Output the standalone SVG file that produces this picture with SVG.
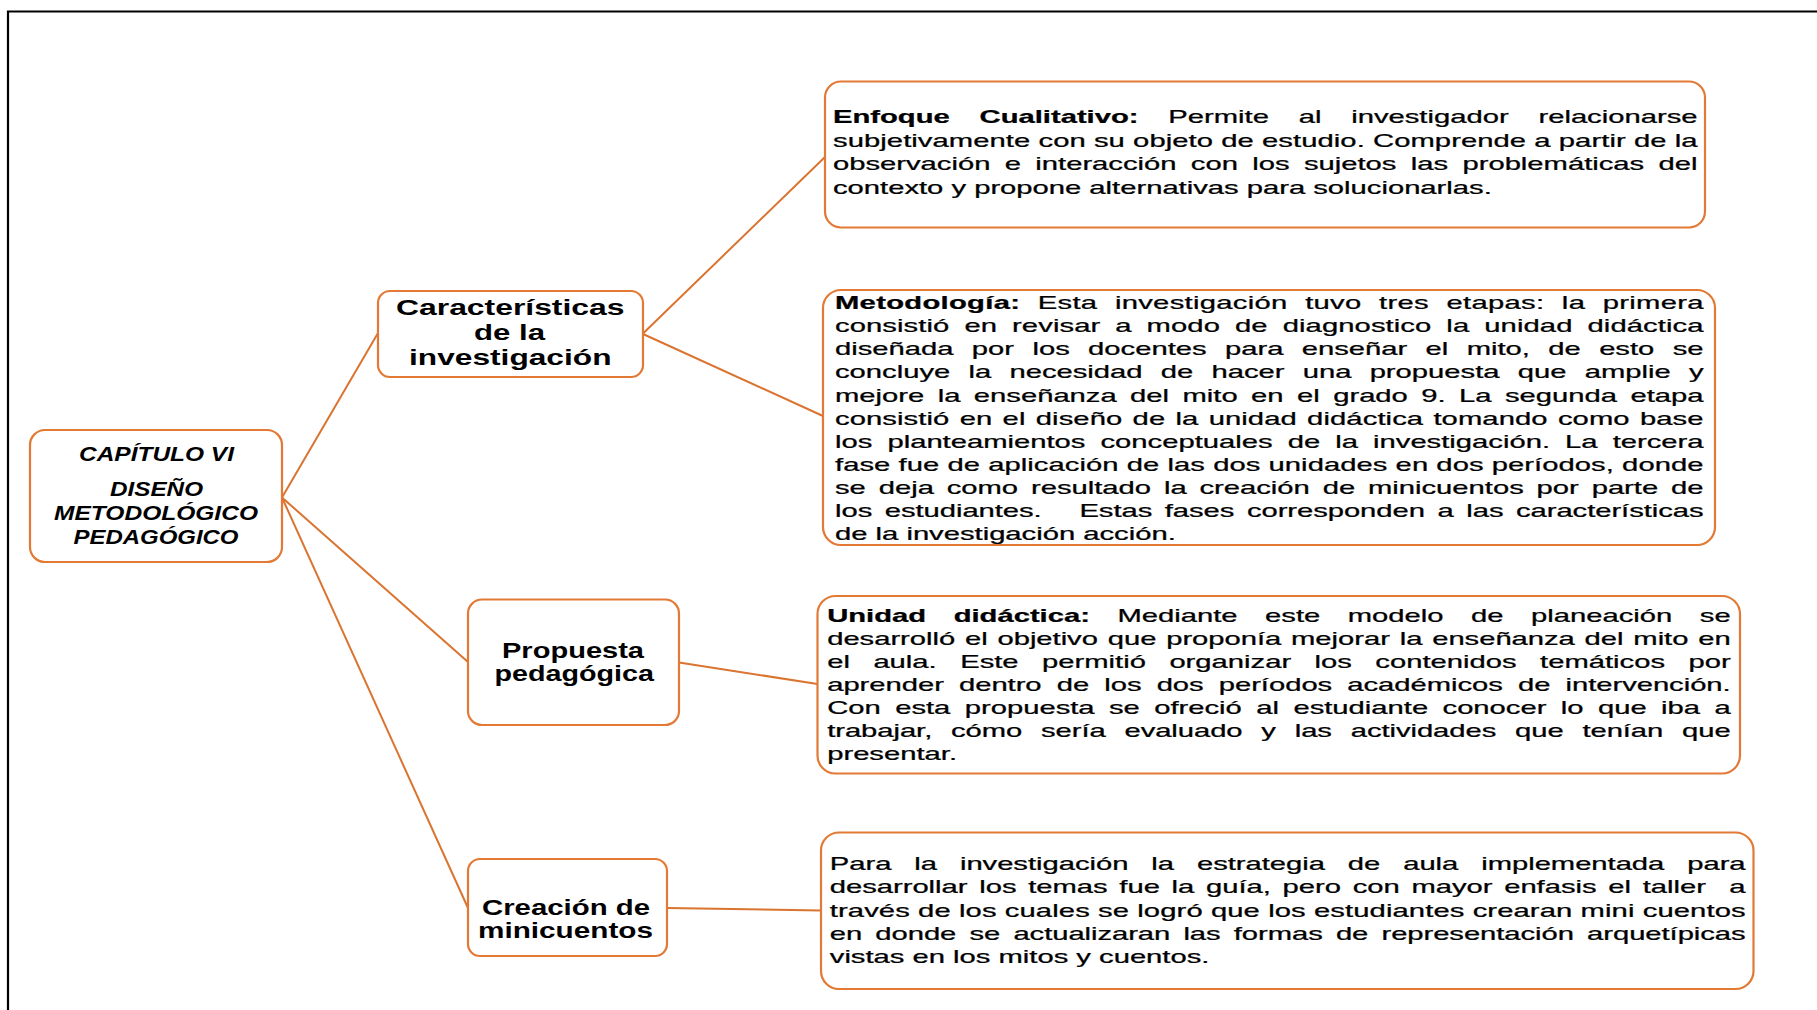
<svg xmlns="http://www.w3.org/2000/svg" width="1817" height="1010" viewBox="0 0 1817 1010">
<style>
.box{fill:#fff;stroke:#E27A36;stroke-width:2.2}
.conn{stroke:#DA7430;stroke-width:2;fill:none;stroke-linecap:round}
.body{font-family:"Liberation Sans",Arial,sans-serif;font-size:17.5px;fill:#000;stroke:#000;stroke-width:0.25}
.node{font-family:"Liberation Sans",Arial,sans-serif;font-weight:bold;font-size:21.5px;fill:#000}
.root{font-family:"Liberation Sans",Arial,sans-serif;font-weight:bold;font-style:italic;font-size:19.5px;fill:#000}
.b{font-weight:bold}
.pre{white-space:pre}
</style>
<rect width="1817" height="1010" fill="#fff"/>
<path d="M8,1012 V11.5 H1819" fill="none" stroke="#000" stroke-width="2.2"/>

<g id="connectors">
<line class="conn" x1="282" y1="497.5" x2="378" y2="333"/>
<line class="conn" x1="643" y1="333.5" x2="825" y2="157"/>
<line class="conn" x1="643" y1="334" x2="823" y2="416"/>
<line class="conn" x1="282" y1="497.5" x2="468" y2="662"/>
<line class="conn" x1="282" y1="497.5" x2="468" y2="908"/>
<line class="conn" x1="679" y1="662.5" x2="817.5" y2="684"/>
<line class="conn" x1="667" y1="908" x2="821" y2="910.5"/>
</g>

<g id="root">
<rect class="box" x="30" y="430" width="252" height="132" rx="15"/>
<text class="root" x="79" y="460.5" textLength="155" lengthAdjust="spacingAndGlyphs">CAPÍTULO VI</text>
<text class="root" x="110" y="495.5" textLength="93" lengthAdjust="spacingAndGlyphs">DISEÑO</text>
<text class="root" x="54" y="520" textLength="204" lengthAdjust="spacingAndGlyphs">METODOLÓGICO</text>
<text class="root" x="73.5" y="544" textLength="165" lengthAdjust="spacingAndGlyphs">PEDAGÓGICO</text>
</g>

<g id="caracteristicas">
<rect class="box" x="378" y="291" width="265" height="86" rx="12"/>
<text class="node" x="396" y="315" textLength="228.5" lengthAdjust="spacingAndGlyphs">Características</text>
<text class="node" x="474" y="340" textLength="71" lengthAdjust="spacingAndGlyphs">de la</text>
<text class="node" x="409" y="365" textLength="202.5" lengthAdjust="spacingAndGlyphs">investigación</text>
</g>

<g id="propuesta">
<rect class="box" x="468" y="599.5" width="211" height="125.5" rx="14"/>
<text class="node" x="502" y="657.5" textLength="142" lengthAdjust="spacingAndGlyphs">Propuesta</text>
<text class="node" x="494.5" y="680.5" textLength="159.5" lengthAdjust="spacingAndGlyphs">pedagógica</text>
</g>

<g id="creacion">
<rect class="box" x="468" y="859" width="199" height="97" rx="12"/>
<text class="node" x="482" y="915" textLength="168" lengthAdjust="spacingAndGlyphs">Creación de</text>
<text class="node" x="478" y="938" textLength="175" lengthAdjust="spacingAndGlyphs">minicuentos</text>
</g>

<g id="enfoque">
<rect class="box" x="825" y="81.5" width="880" height="146" rx="16"/>
<g class="body" transform="scale(1.6686,1)">
<text x="499.22" y="123.5" textLength="518.1" lengthAdjust="spacing" style="word-spacing:12.99px"><tspan class="b">Enfoque Cualitativo:</tspan> Permite al investigador relacionarse</text>
<text x="499.22" y="146.9" textLength="518.1" lengthAdjust="spacing">subjetivamente con su objeto de estudio. Comprende a partir de la</text>
<text x="499.22" y="170.3" textLength="518.1" lengthAdjust="spacing" style="word-spacing:3.73px">observación e interacción con los sujetos las problemáticas del</text>
<text x="499.22" y="193.7">contexto y propone alternativas para solucionarlas.</text>
</g>
</g>

<g id="metodologia">
<rect class="box" x="823" y="290" width="892" height="255" rx="18"/>
<g class="body" transform="scale(1.6686,1)">
<text x="500.42" y="309" textLength="520.5" lengthAdjust="spacing" style="word-spacing:5.47px"><tspan class="b">Metodología:</tspan> Esta investigación tuvo tres etapas: la primera</text>
<text x="500.42" y="332.15" textLength="520.5" lengthAdjust="spacing" style="word-spacing:4.06px">consistió en revisar a modo de diagnostico la unidad didáctica</text>
<text x="500.42" y="355.3" textLength="520.5" lengthAdjust="spacing" style="word-spacing:6.14px">diseñada por los docentes para enseñar el mito, de esto se</text>
<text x="500.42" y="378.45" textLength="520.5" lengthAdjust="spacing" style="word-spacing:6.06px">concluye la necesidad de hacer una propuesta que amplie y</text>
<text x="500.42" y="401.6" textLength="520.5" lengthAdjust="spacing" style="word-spacing:3.19px">mejore la enseñanza del mito en el grado 9. La segunda etapa</text>
<text x="500.42" y="424.75" textLength="520.5" lengthAdjust="spacing" style="word-spacing:1.22px">consistió en el diseño de la unidad didáctica tomando como base</text>
<text x="500.42" y="447.9" textLength="520.5" lengthAdjust="spacing" style="word-spacing:4.18px">los planteamientos conceptuales de la investigación. La tercera</text>
<text x="500.42" y="471.05" textLength="520.5" lengthAdjust="spacing">fase fue de aplicación de las dos unidades en dos períodos, donde</text>
<text x="500.42" y="494.2" textLength="520.5" lengthAdjust="spacing" style="word-spacing:2.83px">se deja como resultado la creación de minicuentos por parte de</text>
<text class="pre" x="500.42" y="517.35" textLength="520.5" lengthAdjust="spacing" style="word-spacing:2.72px">los estudiantes.   Estas fases corresponden a las características</text>
<text x="500.42" y="540.5">de la investigación acción.</text>
</g>
</g>

<g id="unidad">
<rect class="box" x="817.5" y="596" width="922.5" height="177.5" rx="18"/>
<g class="body" transform="scale(1.6686,1)">
<text x="495.74" y="621.7" textLength="541.47" lengthAdjust="spacing" style="word-spacing:11.63px"><tspan class="b">Unidad didáctica:</tspan> Mediante este modelo de planeación se</text>
<text x="495.74" y="644.75" textLength="541.47" lengthAdjust="spacing" style="word-spacing:1.04px">desarrolló el objetivo que proponía mejorar la enseñanza del mito en</text>
<text x="495.74" y="667.8" textLength="541.47" lengthAdjust="spacing" style="word-spacing:9.2px">el aula. Este permitió organizar los contenidos temáticos por</text>
<text x="495.74" y="690.85" textLength="541.47" lengthAdjust="spacing" style="word-spacing:4.22px">aprender dentro de los dos períodos académicos de intervención.</text>
<text x="495.74" y="713.9" textLength="541.47" lengthAdjust="spacing" style="word-spacing:3.77px">Con esta propuesta se ofreció al estudiante conocer lo que iba a</text>
<text x="495.74" y="736.95" textLength="541.47" lengthAdjust="spacing" style="word-spacing:6.45px">trabajar, cómo sería evaluado y las actividades que tenían que</text>
<text x="495.74" y="760">presentar.</text>
</g>
</g>

<g id="para">
<rect class="box" x="821" y="832.5" width="932.5" height="156.5" rx="18"/>
<g class="body" transform="scale(1.6686,1)">
<text x="497.3" y="870" textLength="548.84" lengthAdjust="spacing" style="word-spacing:8.91px">Para la investigación la estrategia de aula implementada para</text>
<text class="pre" x="497.3" y="893.3" textLength="548.84" lengthAdjust="spacing" style="word-spacing:2.19px">desarrollar los temas fue la guía, pero con mayor enfasis el taller  a</text>
<text x="497.3" y="916.6" textLength="548.84" lengthAdjust="spacing">través de los cuales se logró que los estudiantes crearan mini cuentos</text>
<text x="497.3" y="939.9" textLength="548.84" lengthAdjust="spacing" style="word-spacing:3.07px">en donde se actualizaran las formas de representación arquetípicas</text>
<text x="497.3" y="963.2">vistas en los mitos y cuentos.</text>
</g>
</g>
</svg>
